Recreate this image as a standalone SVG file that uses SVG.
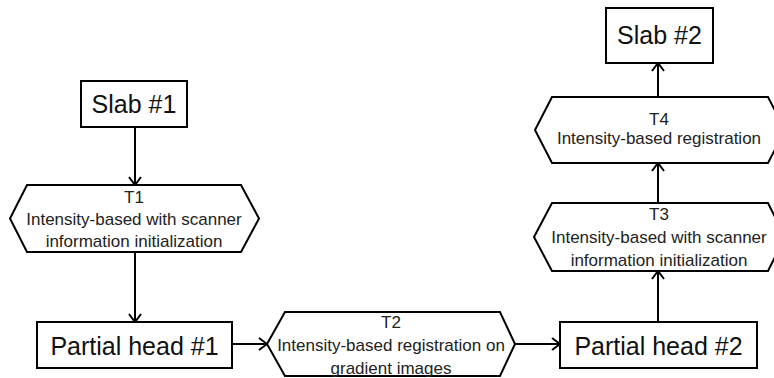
<svg xmlns="http://www.w3.org/2000/svg" width="774" height="378" viewBox="0 0 774 378">
<defs>
<style>
.box{fill:#fff;stroke:#000;stroke-width:2}
.big{font-family:"Liberation Sans",Arial,sans-serif;font-size:25px;fill:#111;text-anchor:middle}
.sm{font-family:"Liberation Sans",Arial,sans-serif;font-size:17px;fill:#222;text-anchor:middle}
.edge{stroke:#000;stroke-width:2;fill:none;marker-end:url(#ah)}
</style>
<marker id="ah" markerUnits="userSpaceOnUse" markerWidth="14" markerHeight="16" refX="9" refY="7" orient="auto">
<path d="M1,1 L9,7 L1,13" fill="none" stroke="#000" stroke-width="2"/>
</marker>
</defs>
<rect width="774" height="378" fill="#fff"/>
<g id="connectors">
<line class="edge" x1="135" y1="127" x2="135" y2="185"/>
<line class="edge" x1="135" y1="252" x2="135" y2="322"/>
<line class="edge" x1="232" y1="344" x2="267" y2="344"/>
<line class="edge" x1="515" y1="344" x2="560" y2="344"/>
<line class="edge" x1="658" y1="322" x2="658" y2="271"/>
<line class="edge" x1="658" y1="203" x2="658" y2="163"/>
<line class="edge" x1="658" y1="97" x2="658" y2="63"/>
</g>
<g id="slab1">
<rect class="box" x="81" y="81" width="106" height="46"/>
<text class="big" x="134" y="113">Slab #1</text>
</g>
<g id="t1">
<polygon class="box" points="10,218.5 27,185 241,185 259,218.5 241,252 27,252"/>
<text class="sm" x="134" y="203">T1</text>
<text class="sm" x="134" y="225">Intensity-based with scanner</text>
<text class="sm" x="134" y="247">information initialization</text>
</g>
<g id="ph1">
<rect class="box" x="37" y="322" width="195" height="46"/>
<text class="big" x="134.5" y="355">Partial head #1</text>
</g>
<g id="t2">
<polygon class="box" points="267,344 285,312 500,312 515,344 500,376 285,376"/>
<text class="sm" x="391" y="328">T2</text>
<text class="sm" x="391" y="350.5">Intensity-based registration on</text>
<text class="sm" x="391" y="373.5">gradient images</text>
</g>
<g id="ph2">
<rect class="box" x="560" y="322" width="197" height="46"/>
<text class="big" x="658.5" y="355">Partial head #2</text>
</g>
<g id="t3">
<polygon class="box" points="534,237 552,203 768,203 785,237 768,271 552,271"/>
<text class="sm" x="659" y="219.5">T3</text>
<text class="sm" x="659" y="242.5">Intensity-based with scanner</text>
<text class="sm" x="659" y="265.5">information initialization</text>
</g>
<g id="t4">
<polygon class="box" points="535,130 552,97 768,97 785,130 768,163 552,163"/>
<text class="sm" x="659" y="124.5">T4</text>
<text class="sm" x="659" y="144">Intensity-based registration</text>
</g>
<g id="slab2">
<rect class="box" x="606" y="8" width="107" height="55"/>
<text class="big" x="659.5" y="44">Slab #2</text>
</g>
</svg>
